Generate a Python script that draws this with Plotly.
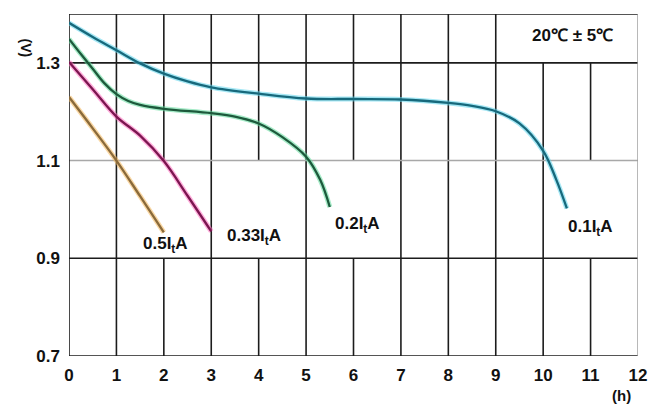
import plotly.graph_objects as go

# ---- data ----
x_01 = [0, 0.5, 1, 1.5, 2, 2.5, 3, 4, 5, 6, 7, 8, 8.5, 9, 9.5, 10, 10.28, 10.5]
y_01 = [1.382, 1.353, 1.326, 1.299, 1.278, 1.262, 1.25, 1.237, 1.227, 1.226, 1.225, 1.218, 1.212, 1.201, 1.176, 1.12, 1.06, 1.002]

x_02 = [0, 0.25, 0.5, 0.75, 1, 1.25, 1.5, 2, 3, 3.5, 4, 4.5, 5, 5.3, 5.5]
y_02 = [1.349, 1.318, 1.288, 1.258, 1.236, 1.222, 1.214, 1.206, 1.197, 1.19, 1.176, 1.148, 1.108, 1.06, 1.005]

x_033 = [0, 0.5, 1, 1.5, 2, 2.5, 3]
y_033 = [1.302, 1.246, 1.19, 1.151, 1.099, 1.028, 0.955]

x_05 = [0, 0.5, 1, 1.5, 2]
y_05 = [1.23, 1.166, 1.1, 1.027, 0.953]

series_names = ["0.1I<sub>t</sub>A", "0.2I<sub>t</sub>A", "0.33I<sub>t</sub>A", "0.5I<sub>t</sub>A"]
label_x = [10.99, 6.08, 3.9, 2.03]
label_y = [0.963, 0.969, 0.943, 0.927]

x_ticks = list(range(0, 13))
y_ticks = [0.7, 0.9, 1.1, 1.3]

glow_colors = ["#5fd6ee", "#5fdc9c", "#ff6ec0", "#f5b85a"]
core_colors = ["#17697c", "#1d5a3c", "#7c1650", "#8a6a3a"]

fig = go.Figure()
for xs, ys, gc, cc in zip([x_01, x_02, x_033, x_05], [y_01, y_02, y_033, y_05], glow_colors, core_colors):
    fig.add_trace(go.Scatter(x=xs, y=ys, mode="lines",
                             line=dict(color=gc, width=5, shape="spline", smoothing=1.0),
                             opacity=0.55, hoverinfo="skip", showlegend=False))
    fig.add_trace(go.Scatter(x=xs, y=ys, mode="lines",
                             line=dict(color=cc, width=2.3, shape="spline", smoothing=1.0),
                             showlegend=False))

# ---- grid (drawn as segments, like the printed chart) ----
dark = "#1c1c1c"
shapes = []
def seg(x0, y0, x1, y1, color=dark, w=1.6):
    shapes.append(dict(type="line", xref="x", yref="y", x0=x0, y0=y0, x1=x1, y1=y1,
                       line=dict(color=color, width=w), layer="below"))

rows = [(0.7, 0.9, list(range(1, 12))),
        (0.9, 1.1, [1, 3, 5, 7, 8, 9, 10]),
        (1.1, 1.3, list(range(1, 12))),
        (1.3, 1.4, list(range(1, 10)))]
for y0, y1, xs in rows:
    for xv in xs:
        seg(xv, y0, xv, y1)

seg(0, 0.9, 12, 0.9)
seg(0, 1.3, 12, 1.3)
seg(0, 1.1, 12, 1.1, color="#a8a8a8", w=1.6)
seg(0, 1.4, 12, 1.4)
seg(0, 0.7, 12, 0.7)
seg(0, 0.7, 0, 1.4)
seg(12, 0.7, 12, 1.4, color="#9a9a9a", w=1.4)

fig.update_layout(shapes=shapes)

font_family = "Liberation Sans, Arial, sans-serif"
# The page body has an 8px margin, so the figure is sized/offset to compensate.
OFF = 8
W, H = 656 - 2 * OFF, 412 - 2 * OFF
ml, mt = 69 - OFF, 14 - OFF
pw, ph = 638 - 69, 356 - 14
mr, mb = W - ml - pw, H - mt - ph

def px_to_paper(px, py):
    return (px - OFF - ml) / pw, 1 - (py - OFF - mt) / ph

annotations = []
for t, lx, ly in zip(series_names, label_x, label_y):
    annotations.append(dict(x=lx, y=ly, xref="x", yref="y", text="<b>" + t + "</b>", showarrow=False,
                            font=dict(size=17, color="#111", family=font_family)))
annotations.append(dict(x=10.62, y=1.356, xref="x", yref="y", text="<b>20℃ ± 5℃</b>", showarrow=False,
                        font=dict(size=17, color="#111", family=font_family)))
hx, hy = px_to_paper(633, 404)
annotations.append(dict(x=hx, y=hy, xref="paper", yref="paper", yanchor="bottom", yshift=-2,
                        text="<b>(h)</b>", showarrow=False,
                        font=dict(size=15, color="#111", family=font_family)))
vx, vy = px_to_paper(16, 36)
annotations.append(dict(x=vx, y=vy, xref="paper", yref="paper", text="<b>(V)</b>", showarrow=False,
                        textangle=90, font=dict(size=14, color="#111", family=font_family)))

fig.update_layout(
    annotations=annotations,
    width=W, height=H,
    margin=dict(l=ml, r=mr, t=mt, b=mb, autoexpand=False),
    paper_bgcolor="white", plot_bgcolor="white",
    xaxis=dict(range=[0, 12], tickvals=x_ticks, ticktext=[f"<b>{v}</b>" for v in x_ticks],
               showgrid=False, zeroline=False, showline=False, ticks="", automargin=False,
               tickfont=dict(size=17, color="#111", family=font_family), ticklabelstandoff=7),
    yaxis=dict(range=[0.7, 1.4], tickvals=y_ticks, ticktext=[f"<b>{v:.1f}</b>" for v in y_ticks],
               showgrid=False, zeroline=False, showline=False, ticks="", automargin=False,
               tickfont=dict(size=17, color="#111", family=font_family), ticklabelstandoff=8),
)

fig.write_html("out.html")
